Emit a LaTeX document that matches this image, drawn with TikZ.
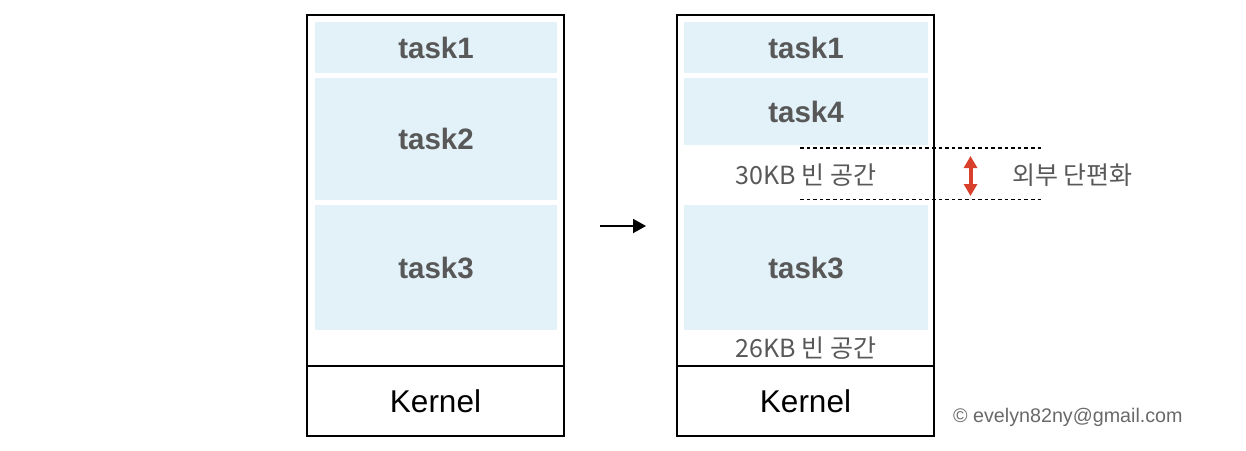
\documentclass[tikz,border=0pt]{standalone}
\usepackage{fontspec}
\setmainfont{Liberation Sans}
\newfontfamily\kr{Noto Sans CJK KR}
\usetikzlibrary{arrows.meta}
\definecolor{blk}{RGB}{227,241,249}
\definecolor{tgray}{RGB}{88,88,88}
\definecolor{redarr}{RGB}{217,64,43}
\tikzset{
  outer/.style={draw=black, line width=1.3pt, minimum width=257pt, inner sep=0pt, outer sep=0pt},
  block/.style={fill=blk, inner sep=0pt, outer sep=0pt, font=\fontsize{29.5}{31}\selectfont\bfseries, text=tgray},
  kern/.style={draw=black, line width=1.3pt, minimum width=257pt, minimum height=70pt, inner sep=0pt, outer sep=0pt, font=\fontsize{31.5}{33}\selectfont},
  free/.style={inner sep=0pt, font=\kr\fontsize{25}{28}\selectfont, text=tgray},
  dline/.style={line width=1.7pt, dash pattern=on 3.6pt off 3pt},
}
\begin{document}
\begin{tikzpicture}[x=1pt,y=-1pt]
\useasboundingbox (0,0) rectangle (1246,450);
% left column
\node[outer, minimum height=421pt] (lbox) at (435.5,225.5) {};
\node[kern] (lk) at (435.5,401) {Kernel};
\node[block, minimum width=242pt, minimum height=51pt] (l1) at (436,47.5) {task1};
\node[block, minimum width=242pt, minimum height=122pt] (l2) at (436,139) {task2};
\node[block, minimum width=242pt, minimum height=125pt] (l3) at (436,267.5) {task3};
% right column
\node[outer, minimum height=421pt] (rbox) at (805.5,225.5) {};
\node[kern] (rk) at (805.5,401) {Kernel};
\node[block, minimum width=244pt, minimum height=51pt] (r1) at (806,47.5) {task1};
\node[block, minimum width=244pt, minimum height=67pt] (r4) at (806,111.5) {task4};
\node[block, minimum width=244pt, minimum height=125pt] (r3) at (806,267.5) {task3};
\node[free] (f30) at (806,175) {30KB 빈 공간};
\node[free] (f26) at (806,348.5) {26KB 빈 공간};
% arrow between columns
\draw[line width=2pt, -{Triangle[length=13pt,width=14pt]}, shorten <=36pt, shorten >=31pt] ([yshift=-0.5pt]lbox.east) -- ([yshift=-0.5pt]rbox.west);
% fragmentation marker
\coordinate (d1a) at (800,148);
\coordinate (d1b) at (1043,148);
\coordinate (d2a) at (800,199.5);
\coordinate (d2b) at (1043,199.5);
\draw[dline] (d1a) -- (d1b);
\draw[dline] (d2a) -- (d2b);
\coordinate (ra) at (970.5,156);
\coordinate (rb) at (970.5,196);
\draw[redarr, line width=4pt, {Triangle[length=12pt,width=13pt]}-{Triangle[length=12pt,width=13pt]}] (ra) -- (rb);
\node[free, anchor=west] (ext) at (1012,175) {외부 단편화};
% copyright
\node[inner sep=0pt, anchor=west, font=\fontsize{19.7}{21}\selectfont, text=tgray!90] (copy) at (953,417) {© evelyn82ny@gmail.com};
\end{tikzpicture}
\end{document}
